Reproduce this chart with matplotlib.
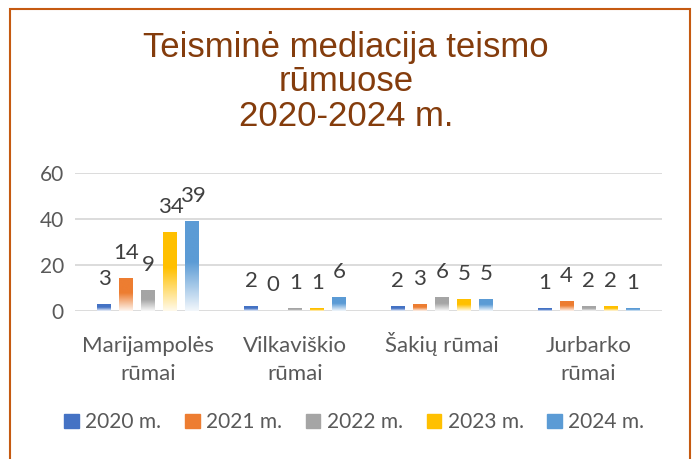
import numpy as np
import matplotlib
matplotlib.use("Agg")
import matplotlib.pyplot as plt
from matplotlib.patches import Rectangle
from matplotlib.colors import to_rgb

# duomenys
categories = ["Marijampolės\nrūmai", "Vilkaviškio\nrūmai", "Šakių rūmai", "Jurbarko\nrūmai"]
years = ["2020 m.", "2021 m.", "2022 m.", "2023 m.", "2024 m."]
v2020 = [3, 2, 2, 1]
v2021 = [14, 0, 3, 4]
v2022 = [9, 1, 6, 2]
v2023 = [34, 1, 5, 2]
v2024 = [39, 6, 5, 1]
series = [v2020, v2021, v2022, v2023, v2024]
colors = ["#4472C4", "#ED7D31", "#A5A5A5", "#FFC000", "#5B9BD5"]
yticks = [0, 20, 40, 60]

plt.rcParams['font.family'] = ['Lato', 'DejaVu Sans']

fig = plt.figure(figsize=(6.92, 4.59), dpi=100)
ax = fig.add_axes([0.1084, 0.3231, 0.8483, 0.3007])

x = np.arange(len(categories))
step = 0.15
width = 0.095


def gradient(color, n=100):
    # spalva viršuje, balta apačioje
    c = np.array(to_rgb(color))
    t = np.linspace(0, 1, n)[:, None]   # 0 = viršus
    mix = np.clip((t - 0.45) / 0.55, 0, 1) * 0.92
    rgb = c * (1 - mix) + np.ones(3) * mix
    return rgb[:, None, :]


for i, (vals, col) in enumerate(zip(series, colors)):
    xs = x + (i - 2) * step
    bars = ax.bar(xs, vals, width, color="none", label=years[i], zorder=3)
    for b, v in zip(bars, vals):
        if v > 0:
            ax.imshow(gradient(col), extent=[b.get_x(), b.get_x() + width, 0, v],
                      aspect='auto', zorder=3, interpolation='bilinear')
        ax.annotate(str(v), (b.get_x() + width / 2, v), xytext=(0, 11),
                    textcoords='offset points', ha='center', va='bottom',
                    fontsize=16, color='#404040')

ax.set_xlim(-0.5, 3.5)
ax.set_ylim(0, 60)
ax.set_yticks(yticks)
ax.set_xticks(x)
ax.set_xticklabels([])
ax.tick_params(axis='both', length=0, labelsize=15, labelcolor='#595959')
ax.tick_params(axis='y', pad=8)
ax.grid(axis='y', color='#D9D9D9', linewidth=1.3, zorder=0)
for s in ax.spines.values():
    s.set_visible(False)

# kategorijų pavadinimai, kiekviena eilutė atskirai
for xi, cat in zip(x, categories):
    for j, line in enumerate(cat.split("\n")):
        ax.annotate(line, (xi, 0), xycoords=('data', 'axes fraction'),
                    xytext=(0, -29.5 - 20.2 * j), textcoords='offset points',
                    ha='center', va='baseline', fontsize=16, color='#595959')

fig.text(0.5, 0.725, "Teisminė mediacija teismo\nrūmuose\n2020-2024 m.",
         ha='center', va='baseline', fontsize=25, color='#843C0C',
         family=['Liberation Sans', 'DejaVu Sans'], linespacing=1.07)

handles = [Rectangle((0, 0), 1, 1, color=c) for c in colors]
fig.legend(handles, years, loc='center', bbox_to_anchor=(0.512, 0.08), ncol=5,
           frameon=False, fontsize=15, labelcolor='#595959',
           handlelength=0.7, handleheight=0.7, handletextpad=0.3, columnspacing=1.15)

# rėmelis
fig.patches.append(Rectangle((10 / 692, -0.1), 680 / 692, 1.1 - 9 / 459,
                             transform=fig.transFigure, fill=False,
                             edgecolor='#C55A11', linewidth=1.5))

plt.savefig("out.png", dpi=100)
